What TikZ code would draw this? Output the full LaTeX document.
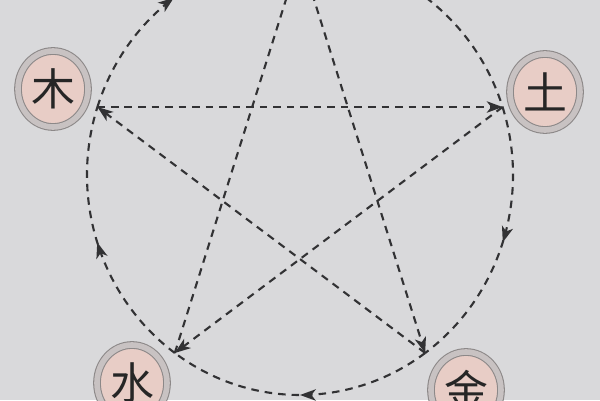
\documentclass[tikz,border=0pt]{standalone}
\usepackage{fontspec}
\newfontfamily\cjk{Noto Sans CJK SC}
\usepackage{tikz}
\usetikzlibrary{shapes,arrows.meta,decorations.markings}
\definecolor{paper}{RGB}{217,217,219}
\definecolor{ink}{RGB}{50,50,52}
\definecolor{ring}{RGB}{200,194,194}
\definecolor{rim}{RGB}{140,136,136}
\definecolor{face}{RGB}{232,205,198}

\tikzset{
  elem/.style={ellipse, minimum width=1.4cm, minimum height=1.52cm, inner sep=0pt,
    fill=face, draw=rim, line width=0.6pt, double=ring, double distance=3.2pt,
    text=black!85, font=\cjk\fontsize{25}{25}\selectfont},
  ke/.style={ink, line width=1.2pt, dash pattern=on 4.3pt off 3.4pt,
    -{Stealth[length=9pt,width=6.5pt,inset=2.5pt]}},
  sheng/.style={ink, line width=1.2pt, dash pattern=on 4.3pt off 3.4pt,
    postaction={decorate}, decoration={markings,
      mark=at position 0.5 with {\arrow{Stealth[length=9pt,width=6.5pt,inset=2.5pt]}}}}
}

\begin{document}
\begin{tikzpicture}[x=0.02cm, y=0.02cm]
        \fill [paper] (0,0) rectangle (600,400);
        \useasboundingbox (0,0) rectangle (600,400);
        \begin{scope}[shift={(300,225)}]
          \coordinate (mu) at (162:213 and 220);
          \coordinate (huo) at (90:213 and 220);
          \coordinate (tu) at (18:213 and 220);
          \coordinate (jin) at (306:213 and 220);
          \coordinate (shui) at (234:213 and 220);
          % sheng: mu -> huo -> tu -> jin -> shui -> mu
          \draw [sheng] (mu) arc [start angle=162, end angle=90, x radius=213, y radius=220];
          \draw [sheng] (huo) arc [start angle=90, end angle=18, x radius=213, y radius=220];
          \draw [sheng] (tu) arc [start angle=18, end angle=-54, x radius=213, y radius=220];
          \draw [sheng] (jin) arc [start angle=-54, end angle=-126, x radius=213, y radius=220];
          \draw [sheng] (shui) arc [start angle=234, end angle=162, x radius=213, y radius=220];
        \end{scope}
        % ke
        \draw [ke] (mu) -- (tu);
        \draw [ke] (tu) -- (shui);
        \draw [ke] (shui) -- (huo);
        \draw [ke] (huo) -- (jin);
        \draw [ke] (jin) -- (mu);
        \node [elem] (mu-disc) at (53,311) {木};
        \node [elem] (tu-disc) at (545,308) {土};
        \node [elem] (shui-disc) at (132,17) {水};
        \node [elem] (jin-disc) at (466,10) {金};
      \end{tikzpicture}
\end{document}
